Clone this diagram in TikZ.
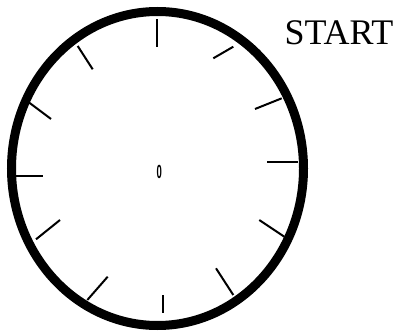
\documentclass[tikz,border=0pt]{standalone}
\usepackage{fontspec}
\setmainfont{Liberation Serif}
\newfontfamily\zerofont{Liberation Sans}
\begin{document}
\begin{tikzpicture}[x=1pt,y=-1pt,
  tick/.style={line width=2pt},
  rim/.style={line width=9pt}]
\useasboundingbox (0,0) rectangle (396,331);
\draw[rim] (157.5,168.5) ellipse [x radius=146, y radius=157];
\draw[tick] (156.7,19.3) -- (156.7,47.3);
\draw[tick] (213.3,58.3) -- (233.3,46.7);
\draw[tick] (255,109) -- (281.7,98.3);
\draw[tick] (267.3,161.7) -- (298.3,161.7);
\draw[tick] (259.3,220) -- (284.3,236.7);
\draw[tick] (216,268.3) -- (233.3,295);
\draw[tick] (163.3,295) -- (163.3,312.7);
\draw[tick] (107.7,276.7) -- (87.3,300);
\draw[tick] (60,220) -- (36,239.3);
\draw[tick] (16,175.7) -- (43.3,175.7);
\draw[tick] (29.3,102.7) -- (51,119);
\draw[tick] (77.7,46) -- (92.7,69.3);
\node[inner sep=0pt, xscale=0.5, font=\zerofont\bfseries\fontsize{19}{19}\selectfont] (zero) at (159.3,171.7) {0};
\node[inner sep=0pt, anchor=base, font=\fontsize{36}{36}\selectfont] (start) at (339,45) {START};
\end{tikzpicture}
\end{document}
